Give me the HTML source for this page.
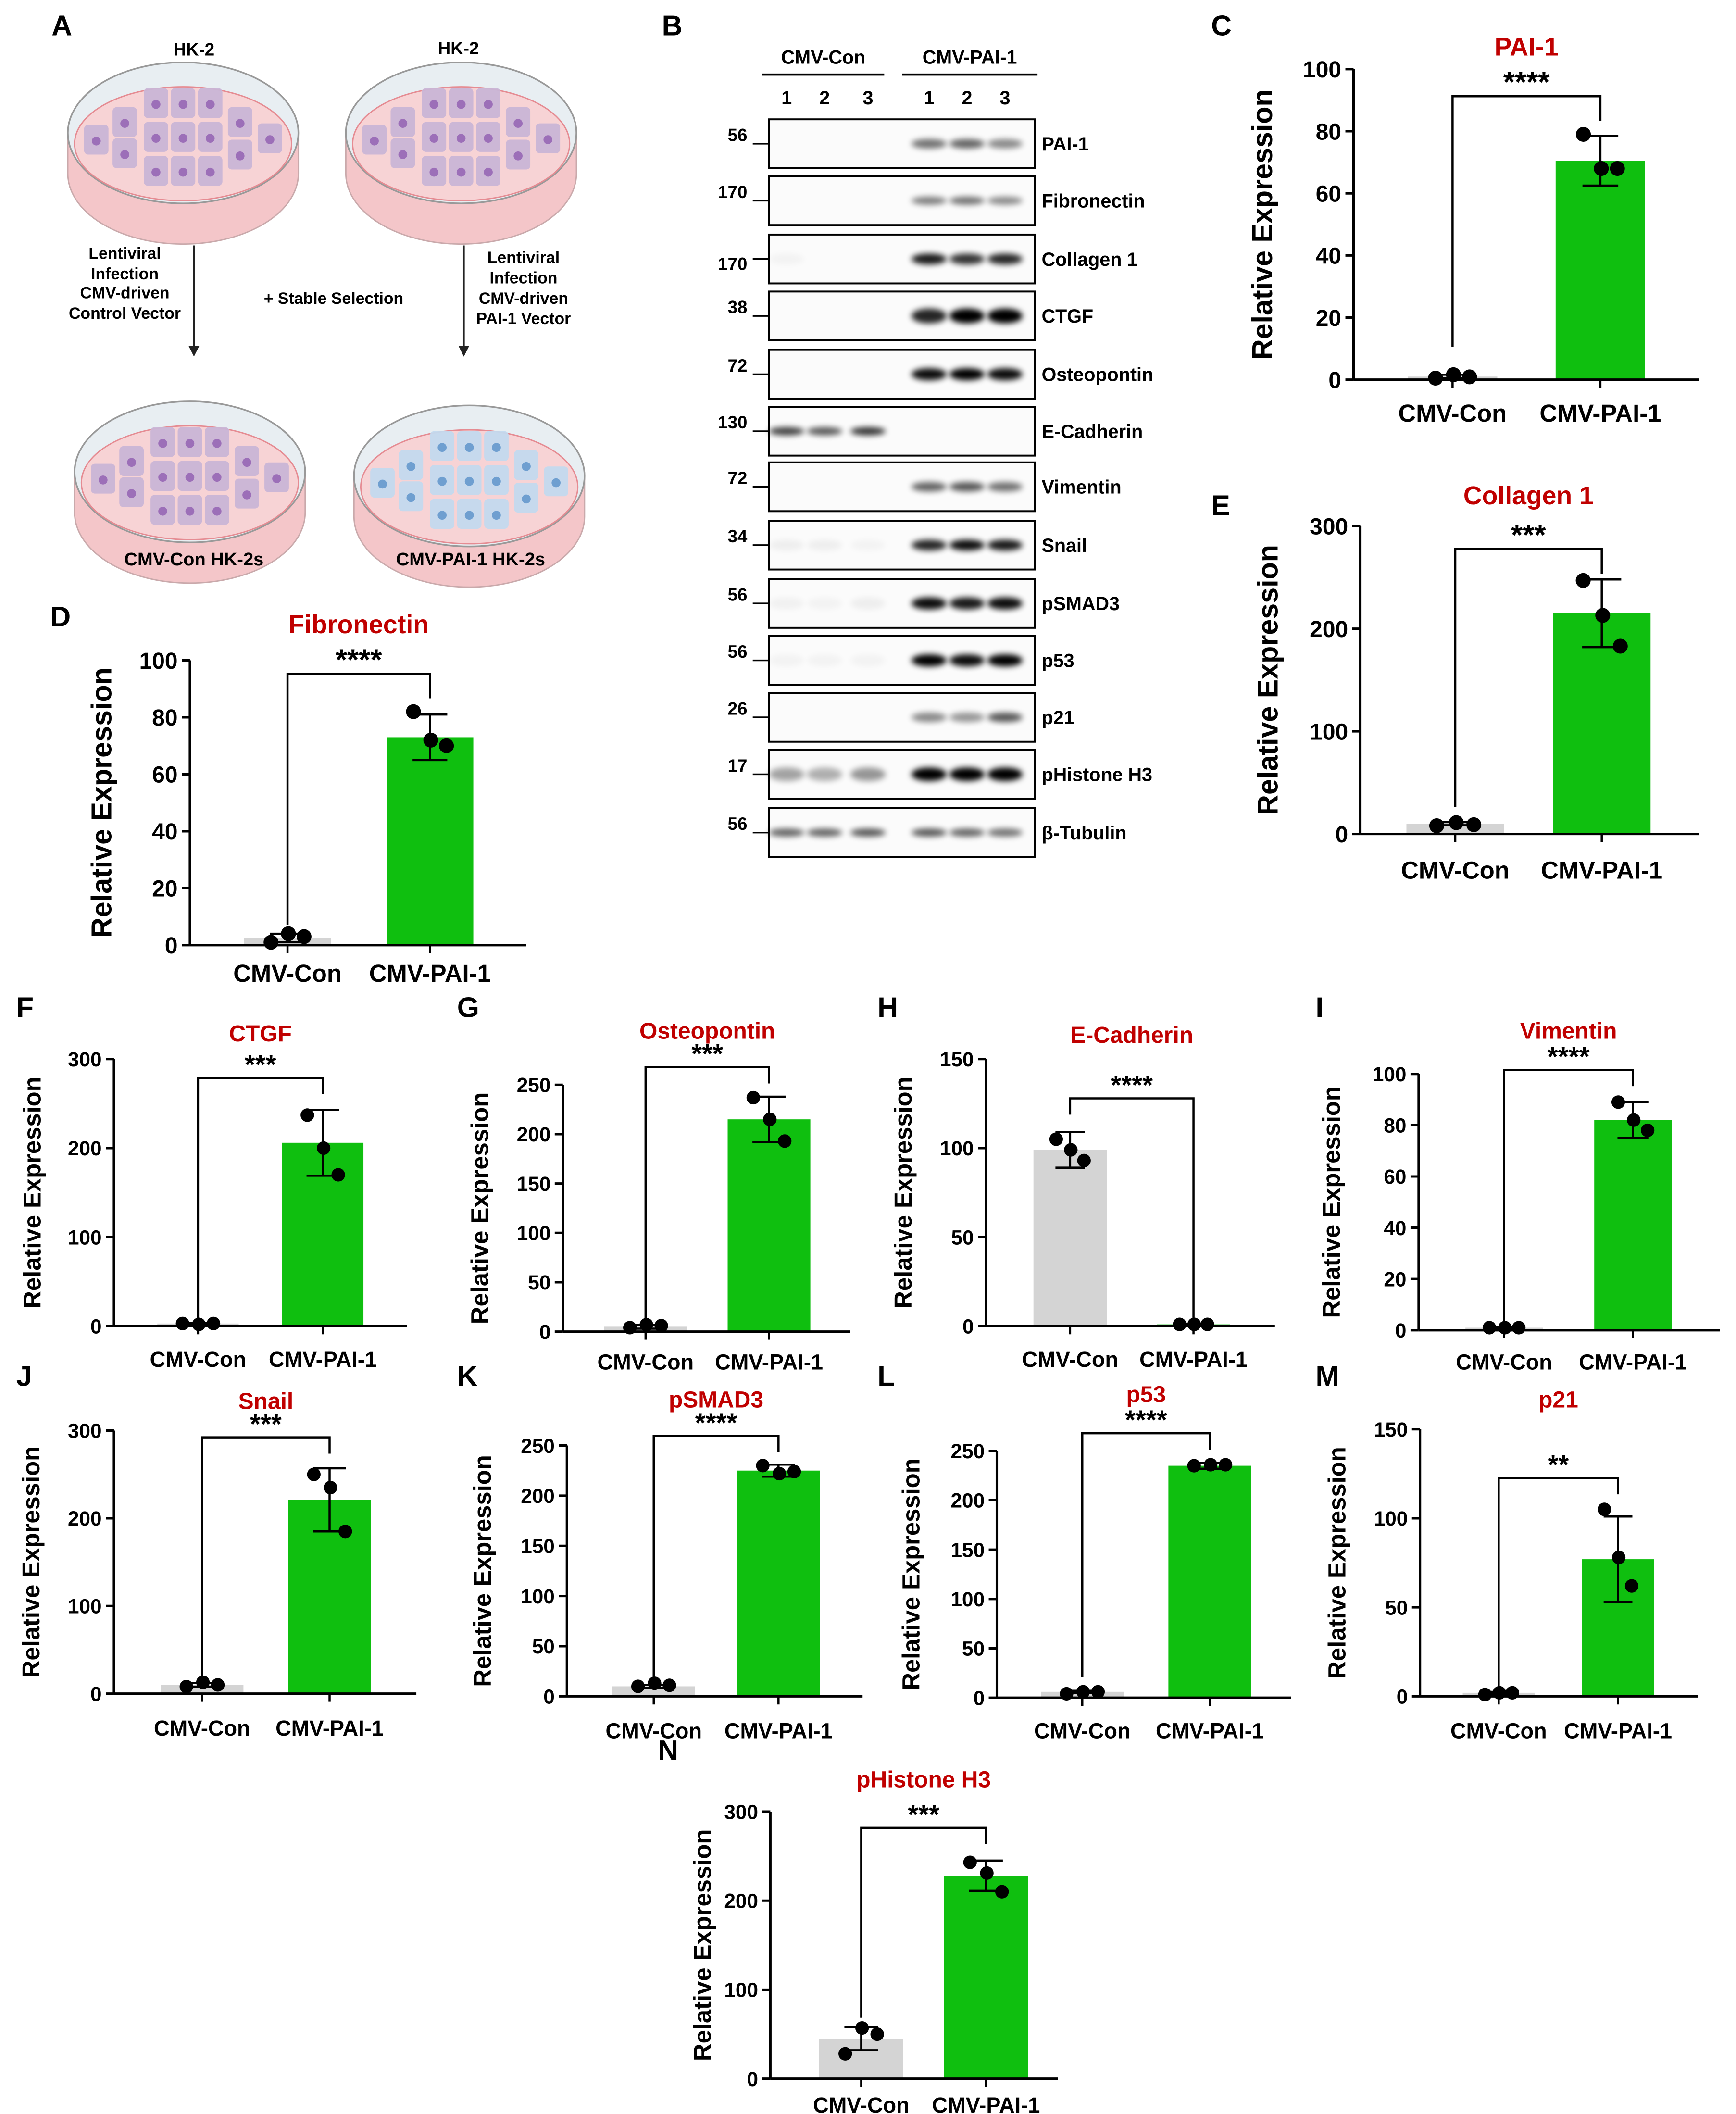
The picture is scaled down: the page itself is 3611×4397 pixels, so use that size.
<!DOCTYPE html>
<html><head><meta charset="utf-8"><style>
html,body{margin:0;padding:0;background:#fff}
svg{display:block}
text{font-family:"Liberation Sans",Arial,sans-serif;font-weight:bold}
</style></head><body>
<svg id="fig" xmlns="http://www.w3.org/2000/svg" width="3611" height="4397" viewBox="0 0 1280 1559" preserveAspectRatio="none">
<defs>
<filter id="blur" x="-50%" y="-100%" width="200%" height="300%"><feGaussianBlur stdDeviation="2.2"/></filter>
</defs>
<g font-size="21">
<text x="38" y="26">A</text><text x="488" y="26">B</text><text x="893" y="26">C</text>
<text x="37" y="462">D</text><text x="893" y="380">E</text>
<text x="12" y="750">F</text><text x="337" y="750">G</text><text x="647" y="750">H</text><text x="970" y="750">I</text>
<text x="12" y="1022">J</text><text x="337" y="1022">K</text><text x="647" y="1022">L</text><text x="970" y="1022">M</text>
<text x="485" y="1298">N</text>
</g>
<g id="panelA"></g>
<g id="panelB"></g>
<g id="charts"></g>
</svg>
<script>
const groups=["CMV-Con","CMV-PAI-1"];
const cTicks=[0,20,40,60,80,100]; const cMeans=[1,70.5]; const cErr=[0.6,8]; const cCon=[0.5,1.6,0.9]; const cPai=[79,68,68];
const eTicks=[0,100,200,300]; const eMeans=[10,215]; const eErr=[1.5,33]; const eCon=[8,11,9]; const ePai=[247,213,183];
const dTicks=[0,20,40,60,80,100]; const dMeans=[2.5,73]; const dErr=[1.5,8]; const dCon=[1,4,3]; const dPai=[82,72,70];
const fTicks=[0,100,200,300]; const fMeans=[3,206]; const fErr=[0.5,37]; const fCon=[3,2,3]; const fPai=[237,200,170];
const gTicks=[0,50,100,150,200,250]; const gMeans=[5,215]; const gErr=[2,23]; const gCon=[4,7,6]; const gPai=[237,215,193];
const hTicks=[0,50,100,150]; const hMeans=[99,1]; const hErr=[10,0.4]; const hCon=[105,99,93]; const hPai=[1,1,1];
const iTicks=[0,20,40,60,80,100]; const iMeans=[1,82]; const iErr=[0.3,7]; const iCon=[1,1,1]; const iPai=[89,82,78];
const jTicks=[0,100,200,300]; const jMeans=[10,221]; const jErr=[2,36]; const jCon=[8,13,10]; const jPai=[250,235,185];
const kTicks=[0,50,100,150,200,250]; const kMeans=[10,225]; const kErr=[1.5,6]; const kCon=[10,13,11]; const kPai=[230,222,224];
const lTicks=[0,50,100,150,200,250]; const lMeans=[6,235]; const lErr=[1,3]; const lCon=[4,6,6]; const lPai=[235,236,236];
const mTicks=[0,50,100,150]; const mMeans=[2,77]; const mErr=[0.5,24]; const mCon=[1,2,2]; const mPai=[105,78,62];
const nTicks=[0,100,200,300]; const nMeans=[45,228]; const nErr=[13,17]; const nCon=[28,57,50]; const nPai=[243,231,210];

const NS="http://www.w3.org/2000/svg";
function el(tag,attrs,parent,txt){const e=document.createElementNS(NS,tag);for(const k in attrs)e.setAttribute(k,attrs[k]);if(txt!==undefined)e.textContent=txt;parent.appendChild(e);return e;}

function chart(name,g,ticks,means,errs,con,pai,title,stars){
  const root=document.getElementById('charts');
  const G=el('g',{},root);
  
  
  const ymax=ticks[ticks.length-1];
  const y=v=>g.bot-(v/ymax)*(g.bot-g.top);
  const fs=g.fs||14;
  const cols=["#d4d4d4","#0fbf0f"];
  const sets=[con,pai];
  means.forEach((m,i)=>{
    const b=el('rect',{x:g.xc[i]-g.bw/2,y:y(m),width:g.bw,height:g.bot-y(m),fill:cols[i]},G);
    
    
  });
  means.forEach((m,i)=>{
    const x=g.xc[i],cw=g.bw*0.2;
    el('line',{x1:x,x2:x,y1:y(m+errs[i]),y2:y(Math.max(0,m-errs[i])),stroke:"#000","stroke-width":1.6},G);
    el('line',{x1:x-cw,x2:x+cw,y1:y(m+errs[i]),y2:y(m+errs[i]),stroke:"#000","stroke-width":1.6},G);
    el('line',{x1:x-cw,x2:x+cw,y1:y(Math.max(0,m-errs[i])),y2:y(Math.max(0,m-errs[i])),stroke:"#000","stroke-width":1.6},G);
  });
  sets.forEach((s,i)=>{
    const off=[-g.bw*0.19,g.bw*0.01,g.bw*0.19];
    s.forEach((v,j)=>{
      const p=el('circle',{cx:g.xc[i]+off[j],cy:y(v),r:g.r||5,fill:"#000"},G);
      
      
    });
  });
  el('line',{x1:g.ax,x2:g.ax,y1:g.top,y2:g.bot,stroke:"#000","stroke-width":1.8},G);
  el('line',{x1:g.ax,x2:g.xr,y1:g.bot,y2:g.bot,stroke:"#000","stroke-width":1.8},G);
  ticks.forEach(t=>{
    el('line',{x1:g.ax-6,x2:g.ax,y1:y(t),y2:y(t),stroke:"#000","stroke-width":1.8},G);
    const tl=el('text',{x:g.ax-9,y:y(t)+fs*0.36,"font-size":fs,"text-anchor":"end"},G,String(t));
    
    
  });
  groups.forEach((gr,i)=>{
    el('line',{x1:g.xc[i],x2:g.xc[i],y1:g.bot,y2:g.bot+6,stroke:"#000","stroke-width":1.6},G);
    const xl=el('text',{x:g.xc[i],y:g.labY,"font-size":fs+1,"text-anchor":"middle"},G,gr);
    
    
  });
  const yl=el('text',{x:g.ylX,y:(g.top+g.bot)/2,"font-size":g.yfs||17,"text-anchor":"middle",transform:`rotate(-90 ${g.ylX} ${(g.top+g.bot)/2})`},G,"Relative Expression");
  
  
  const tt=el('text',{x:(g.xc[0]+g.xc[1])/2,y:g.titleY,"font-size":g.tfs||17,"text-anchor":"middle",fill:"#c00000"},G,title);
  
  
  const by=g.brY;
  el('polyline',{points:`${g.xc[0]},${by+(g.d0||14)} ${g.xc[0]},${by} ${g.xc[1]},${by} ${g.xc[1]},${by+(g.d1||12)}`,fill:"none",stroke:"#000","stroke-width":1.6},G);
  const st=el('text',{x:(g.xc[0]+g.xc[1])/2,y:by+(g.starDy||-3),"font-size":(g.sfs||20),"text-anchor":"middle"},G,stars);
  
  
}

chart('chart-c-pai1',{ax:998,top:51,bot:280,xr:1253,xc:[1071,1180],bw:66,labY:311,ylX:938,titleY:41,brY:71,fs:17,yfs:21,tfs:19,sfs:22,d0:185,d1:18,r:5.5},cTicks,cMeans,cErr,cCon,cPai,"PAI-1","****");
chart('chart-e-collagen1',{ax:1003,top:388,bot:615,xr:1253,xc:[1073,1181],bw:72,labY:648,ylX:942,titleY:372,brY:405,fs:17,yfs:21,tfs:19,sfs:22,d0:190,d1:18,r:5.5},eTicks,eMeans,eErr,eCon,ePai,"Collagen 1","***");
chart('chart-d-fibronectin',{ax:140,top:487,bot:697,xr:388,xc:[212,317],bw:64,labY:724,ylX:82,titleY:467,brY:497,fs:17,yfs:21,tfs:19,sfs:22,d0:185,d1:18,r:5.5},dTicks,dMeans,dErr,dCon,dPai,"Fibronectin","****");
chart('chart-f-ctgf',{ax:84,top:781,bot:978,xr:300,xc:[146,238],bw:60,labY:1008,ylX:30,titleY:768,brY:795,fs:15,yfs:18,r:5,d0:178},fTicks,fMeans,fErr,fCon,fPai,"CTGF","***");
chart('chart-g-osteopontin',{ax:415,top:800,bot:982,xr:627,xc:[476,567],bw:61,labY:1010,ylX:360,titleY:766,brY:787,fs:15,yfs:18,r:5,d0:190},gTicks,gMeans,gErr,gCon,gPai,"Osteopontin","***");
chart('chart-h-ecadherin',{ax:727,top:781,bot:978,xr:940,xc:[789,880],bw:54,labY:1008,ylX:672,titleY:769,brY:810,fs:15,yfs:18,r:5,d0:12,d1:166},hTicks,hMeans,hErr,hCon,hPai,"E-Cadherin","****");
chart('chart-i-vimentin',{ax:1046,top:792,bot:981,xr:1268,xc:[1109,1204],bw:57,labY:1010,ylX:988,titleY:766,brY:789,fs:15,yfs:18,r:5,d0:188},iTicks,iMeans,iErr,iCon,iPai,"Vimentin","****");
chart('chart-j-snail',{ax:84,top:1055,bot:1249,xr:307,xc:[149,243],bw:61,labY:1280,ylX:29,titleY:1039,brY:1060,fs:15,yfs:18,r:5,d0:178},jTicks,jMeans,jErr,jCon,jPai,"Snail","***");
chart('chart-k-psmad3',{ax:418,top:1066,bot:1251,xr:636,xc:[482,574],bw:61,labY:1282,ylX:362,titleY:1038,brY:1059,fs:15,yfs:18,r:5,d0:178},kTicks,kMeans,kErr,kCon,kPai,"pSMAD3","****");
chart('chart-l-p53',{ax:735,top:1070,bot:1252,xr:952,xc:[798,892],bw:61,labY:1282,ylX:678,titleY:1034,brY:1057,fs:15,yfs:18,r:5,d0:180},lTicks,lMeans,lErr,lCon,lPai,"p53","****");
chart('chart-m-p21',{ax:1047,top:1054,bot:1251,xr:1252,xc:[1105,1193],bw:53,labY:1282,ylX:992,titleY:1038,brY:1090,fs:15,yfs:18,r:5,d0:155},mTicks,mMeans,mErr,mCon,mPai,"p21","**");
chart('chart-n-phistone-h3',{ax:568,top:1336,bot:1533,xr:780,xc:[635,727],bw:62,labY:1558,ylX:524,titleY:1318,brY:1348,fs:15,yfs:18,r:5,d0:140},nTicks,nMeans,nErr,nCon,nPai,"pHistone H3","***");

(function(){
  const A=document.getElementById('panelA');
  function dish(cx,cy,blue,name){
    const g=el('g',{},A);
    
    
    const rx=85,ry=52,h=30;
    el('path',{d:`M${cx-rx},${cy} L${cx-rx},${cy+h} A${rx},${ry} 0 0 0 ${cx+rx},${cy+h} L${cx+rx},${cy} Z`,fill:"#f4c6c9",stroke:"#c9a9ab","stroke-width":1},g);
    el('ellipse',{cx:cx,cy:cy,rx:rx,ry:ry,fill:"#e8eef2",stroke:"#999","stroke-width":1.2},g);
    el('ellipse',{cx:cx,cy:cy+8,rx:rx-5,ry:ry-10,fill:"#f7d3d5",stroke:"#e58b92","stroke-width":1},g);
    const cell=blue?"#c3d9ee":"#c9b5d6", nuc=blue?"#6f9fd0":"#9c6fb8";
    const pos=[[-54,3],[-33,-10],[-33,13],[-10,-24],[10,-24],[30,-24],[-10,1],[10,1],[30,1],[-10,26],[10,26],[30,26],[52,-10],[52,14],[74,2]];
    pos.forEach(p=>{
      el('rect',{x:cx-10+p[0]-9,y:cy+p[1]-9,width:18,height:22,rx:3,fill:cell,opacity:0.95},g);
      el('circle',{cx:cx-10+p[0],cy:cy+p[1]+3,r:3.3,fill:nuc},g);
    });
  }
  dish(135,98,false,'dish-hk2-left');
  dish(340,98,false,'dish-hk2-right');
  dish(140,348,false,'dish-cmv-con');
  dish(346,351,true,'dish-cmv-pai1');
  const T=(x,y,s,fs,name)=>{const t=el('text',{x:x,y:y,"font-size":fs,"text-anchor":"middle"},A,s);};
  T(143,41,"HK-2",13,'label-hk2-left'); T(338,40,"HK-2",13,'label-hk2-right');
  el('line',{x1:143,x2:143,y1:181,y2:256,stroke:"#222","stroke-width":1.3},A);
  el('path',{d:"M139,255 L147,255 L143,263 Z",fill:"#222"},A);
  el('line',{x1:342,x2:342,y1:181,y2:256,stroke:"#222","stroke-width":1.3},A);
  el('path',{d:"M338,255 L346,255 L342,263 Z",fill:"#222"},A);
  [["Lentiviral",191],["Infection",206],["CMV-driven",220],["Control Vector",235]].forEach(a=>T(92,a[1],a[0],12,'left-arrow-text'));
  [["Lentiviral",194],["Infection",209],["CMV-driven",224],["PAI-1 Vector",239]].forEach(a=>T(386,a[1],a[0],12,'right-arrow-text'));
  T(246,224,"+ Stable Selection",12,'stable-selection-label');
  T(143,417,"CMV-Con HK-2s",13.5,'label-cmv-con-cells'); T(347,417,"CMV-PAI-1 HK-2s",13.5,'label-cmv-pai1-cells');
})();

const blotProteins=["PAI-1","Fibronectin","Collagen 1","CTGF","Osteopontin","E-Cadherin","Vimentin","Snail","pSMAD3","p53","p21","pHistone H3","β-Tubulin"];
const blotMW=["56","170","170","38","72","130","72","34","56","56","26","17","56"];
const blotIntensity=[
 [0,0,0,0.55,0.6,0.45],[0,0,0,0.5,0.55,0.45],[0.03,0,0,0.9,0.8,0.85],[0,0,0,0.85,1,1],
 [0,0,0,0.95,1,0.95],[0.75,0.65,0.8,0,0,0],[0,0,0,0.6,0.65,0.55],[0.05,0.05,0.03,0.85,0.95,0.9],
 [0.04,0.03,0.05,0.95,0.9,0.95],[0.03,0.03,0.03,1,0.95,1],[0,0,0,0.45,0.4,0.65],[0.35,0.3,0.4,1,1,1],[0.6,0.6,0.65,0.65,0.6,0.55]];
const blotThick=[5,4,6,9,7,4,5,6,7,7,5,8,4];
(function(){
  const B=document.getElementById('panelB');
  const lanes=[580,608,640,685,713,741];
  const rowsY=[106,148,191,233,276,318,359,402,445,487,529,571,614];
  const T=(x,y,s,fs,anc,name)=>{const t=el('text',{x:x,y:y,"font-size":fs,"text-anchor":anc},B,s);return t;};
  T(607,47,"CMV-Con",14,"middle",'group-label-cmv-con');
  T(715,47,"CMV-PAI-1",14,"middle",'group-label-cmv-pai1');
  el('line',{x1:562,x2:652,y1:55,y2:55,stroke:"#000","stroke-width":1.6},B);
  el('line',{x1:665,x2:765,y1:55,y2:55,stroke:"#000","stroke-width":1.6},B);
  ["1","2","3","1","2","3"].forEach((n,i)=>T(lanes[i],77,n,14,"middle",'lane-number'));
  rowsY.forEach((cy,r)=>{
    const g=el('g',{},B);
    
    
    el('rect',{x:567,y:cy-18,width:196,height:36,fill:"#fbfbfb",stroke:"#000","stroke-width":1.4},g);
    lanes.forEach((lx,i)=>{
      const v=blotIntensity[r][i];
      if(v>0) el('ellipse',{cx:lx,cy:cy,rx:13,ry:blotThick[r]/2+1,fill:"#000",opacity:v,filter:"url(#blur)"},g);
    });
    el('line',{x1:555,x2:567,y1:cy,y2:cy,stroke:"#000","stroke-width":1.2},g);
    T(551,cy+(r===2?8:-2),blotMW[r],13,"end",'mw-marker');
    T(768,cy+5,blotProteins[r],14,"start",'protein-label');
  });
})();
</script>
</body></html>
